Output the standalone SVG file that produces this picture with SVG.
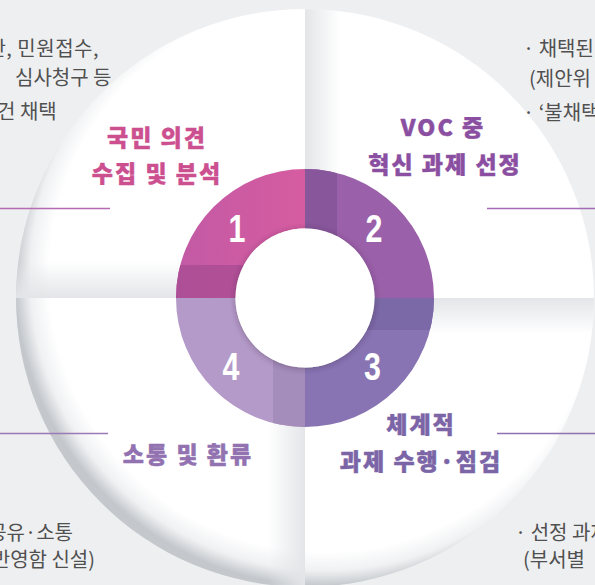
<svg xmlns="http://www.w3.org/2000/svg" width="595" height="585" viewBox="0 0 595 585">
  <defs>
    <radialGradient id="rim" gradientUnits="userSpaceOnUse" cx="325" cy="276" r="310">
      <stop offset="0" stop-color="#ffffff"/>
      <stop offset="0.89" stop-color="#ffffff"/>
      <stop offset="0.95" stop-color="#f0f1f3"/>
      <stop offset="1" stop-color="#c4c8cc"/>
    </radialGradient>
    <linearGradient id="shQ1" x1="0" y1="262" x2="0" y2="298" gradientUnits="userSpaceOnUse">
      <stop offset="0" stop-color="#e3e5e8" stop-opacity="0"/>
      <stop offset="1" stop-color="#e3e5e8" stop-opacity="1"/>
    </linearGradient>
    <linearGradient id="shQ2" x1="305" y1="0" x2="340" y2="0" gradientUnits="userSpaceOnUse">
      <stop offset="0" stop-color="#e3e5e8" stop-opacity="1"/>
      <stop offset="1" stop-color="#e3e5e8" stop-opacity="0"/>
    </linearGradient>
    <linearGradient id="shQ3" x1="0" y1="298" x2="0" y2="334" gradientUnits="userSpaceOnUse">
      <stop offset="0" stop-color="#e3e5e8" stop-opacity="1"/>
      <stop offset="1" stop-color="#e3e5e8" stop-opacity="0"/>
    </linearGradient>
    <linearGradient id="shQ4" x1="268" y1="0" x2="305" y2="0" gradientUnits="userSpaceOnUse">
      <stop offset="0" stop-color="#e3e5e8" stop-opacity="0"/>
      <stop offset="1" stop-color="#e3e5e8" stop-opacity="1"/>
    </linearGradient>
    <linearGradient id="q1g" x1="176" y1="0" x2="305" y2="0" gradientUnits="userSpaceOnUse">
      <stop offset="0" stop-color="#c25aa5"/>
      <stop offset="1" stop-color="#d65ca0"/>
    </linearGradient>
    <linearGradient id="q1b" x1="176" y1="0" x2="305" y2="0" gradientUnits="userSpaceOnUse">
      <stop offset="0" stop-color="#ad4f97"/>
      <stop offset="1" stop-color="#b65095"/>
    </linearGradient>
    <clipPath id="big">
      <circle cx="305" cy="298" r="289"/>
    </clipPath>
    <clipPath id="ring">
      <path clip-rule="evenodd" d="M176,298a129,129 0 1,0 258,0a129,129 0 1,0 -258,0ZM235.5,298a69.5,69.5 0 1,0 139,0a69.5,69.5 0 1,0 -139,0Z"/>
    </clipPath>
    <filter id="hole" x="-30%" y="-30%" width="160%" height="160%">
      <feDropShadow dx="0" dy="1" stdDeviation="3" flood-color="#3a2040" flood-opacity="0.4"/>
    </filter>
  </defs>
  <style>
    .note { font-family: "Noto Sans CJK KR", "Noto Sans", sans-serif; font-size: 20px; fill: #505050; }
    .lbl { font-family: "Noto Sans CJK KR", "Noto Sans", sans-serif; font-size: 23px; font-weight: 900; letter-spacing: 2px; text-anchor: middle; stroke-width: 0.45px; stroke-linejoin: round; }
    .num { font-family: "Liberation Sans", Arial, sans-serif; font-size: 38px; font-weight: 700; fill: #ffffff; text-anchor: middle; }
    .conn { stroke-width: 1.4; fill: none; }
  </style>

  <rect x="0" y="0" width="595" height="585" fill="#eeeff1"/>

  <g id="backdrop">
    <circle cx="305" cy="298" r="289" fill="url(#rim)"/>
    <g clip-path="url(#big)">
      <rect x="0" y="262" width="305" height="36" fill="url(#shQ1)"/>
      <rect x="305" y="0" width="35" height="298" fill="url(#shQ2)"/>
      <rect x="305" y="298" width="290" height="36" fill="url(#shQ3)"/>
      <rect x="268" y="298" width="37" height="287" fill="url(#shQ4)"/>
    </g>
  </g>

  <g id="connectors">
    <line class="conn" x1="0" y1="208.5" x2="110" y2="208.5" stroke="#b46bb4"/>
    <line class="conn" x1="487" y1="208.5" x2="595" y2="208.5" stroke="#a46ab4"/>
    <line class="conn" x1="0" y1="433.5" x2="108" y2="433.5" stroke="#9c7ab8"/>
    <line class="conn" x1="497" y1="433.5" x2="595" y2="433.5" stroke="#9070b0"/>
  </g>

  <g id="step1">
    <g clip-path="url(#ring)">
      <rect x="176" y="169" width="129" height="129" fill="url(#q1g)"/>
      <rect x="176" y="265" width="129" height="33" fill="url(#q1b)"/>
    </g>
    <text class="num" transform="translate(237,242) scale(0.8,1)">1</text>
    <text class="lbl" x="157" y="146" fill="#cc4f8f" stroke="#cc4f8f">국민 의견</text>
    <text class="lbl" x="157" y="182" fill="#cc4f8f" stroke="#cc4f8f">수집 및 분석</text>
  </g>

  <g id="step2">
    <g clip-path="url(#ring)">
      <rect x="305" y="169" width="129" height="129" fill="#9a60a9"/>
      <rect x="305" y="169" width="32" height="129" fill="#87569b"/>
    </g>
    <text class="num" transform="translate(374,242) scale(0.8,1)">2</text>
    <text class="lbl" x="443" y="136" fill="#8b4fa2" stroke="#8b4fa2">VOC 중</text>
    <text class="lbl" x="445" y="173" fill="#8b4fa2" stroke="#8b4fa2">혁신 과제 선정</text>
  </g>

  <g id="step3">
    <g clip-path="url(#ring)">
      <rect x="305" y="298" width="129" height="129" fill="#8874b3"/>
      <rect x="305" y="298" width="129" height="32" fill="#7b68a6"/>
    </g>
    <text class="num" transform="translate(372.5,380) scale(0.8,1)">3</text>
    <text class="lbl" x="421" y="433" fill="#7b65a7" stroke="#7b65a7">체계적</text>
    <text class="lbl" x="421" y="470" fill="#7b65a7" stroke="#7b65a7">과제 수행·점검</text>
  </g>

  <g id="step4">
    <g clip-path="url(#ring)">
      <rect x="176" y="298" width="129" height="129" fill="#b49ac8"/>
      <rect x="273" y="298" width="32" height="129" fill="#a48cbb"/>
    </g>
    <text class="num" transform="translate(231,380) scale(0.8,1)">4</text>
    <text class="lbl" x="188" y="463" fill="#9272b0" stroke="#9272b0">소통 및 환류</text>
  </g>

  <g id="center">
    <circle cx="305" cy="298" r="69.5" fill="#ffffff" filter="url(#hole)"/>
  </g>

  <g id="note-top-left">
    <text class="note" x="99" y="56" text-anchor="end" letter-spacing="0.5">제안, 민원접수,</text>
    <text class="note" x="15" y="85">심사청구 등</text>
    <text class="note" x="-3" y="119">건 채택</text>
  </g>
  <g id="note-top-right">
    <text class="note" x="523" y="56">· 채택된</text>
    <text class="note" x="529" y="86">(제안위</text>
    <text class="note" x="523" y="120">· ‘불채택</text>
  </g>
  <g id="note-bottom-left">
    <text class="note" x="73" y="540" text-anchor="end">공유·소통</text>
    <text class="note" x="95" y="567" text-anchor="end">(반영함 신설)</text>
  </g>
  <g id="note-bottom-right">
    <text class="note" x="515" y="540">· 선정 과제</text>
    <text class="note" x="523" y="567">(부서별</text>
  </g>
</svg>
